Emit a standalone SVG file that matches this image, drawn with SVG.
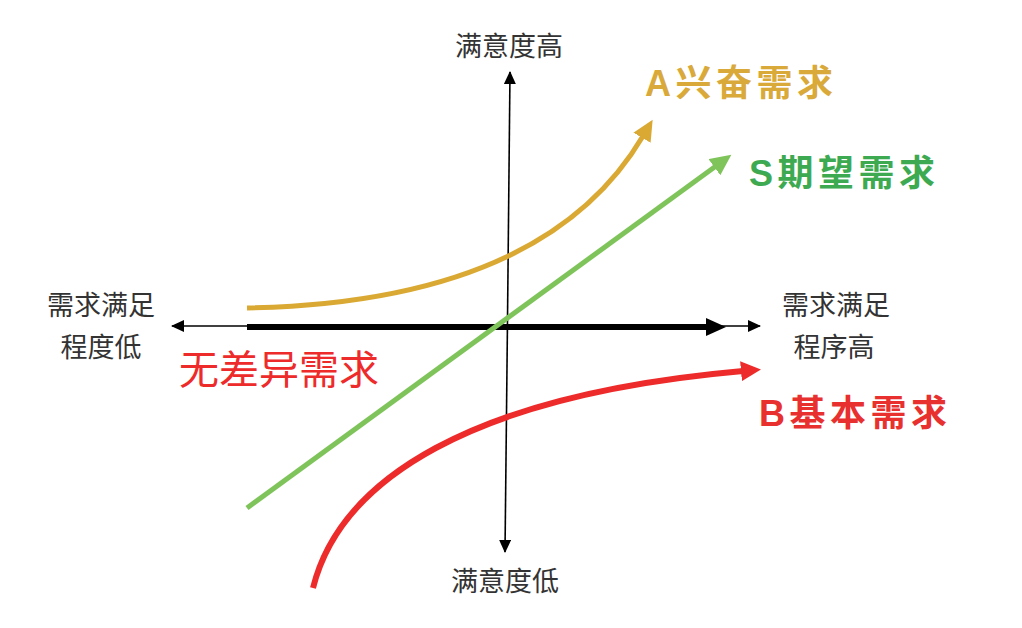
<svg xmlns="http://www.w3.org/2000/svg" width="1022" height="628" viewBox="0 0 1022 628">
<style>
.ax{font-family:"Liberation Serif","Noto Sans CJK SC",serif;font-size:27px;fill:#333;text-anchor:middle}
.lb{font-family:"Liberation Sans","Noto Sans CJK SC",sans-serif;font-weight:bold;font-size:36px;letter-spacing:4.5px}
.thin{stroke:#000;stroke-width:1.6;fill:none}
</style>
<defs>
<marker id="ah" markerUnits="userSpaceOnUse" markerWidth="14" markerHeight="12" refX="12" refY="6" orient="auto">
<path d="M0,0 L13,6 L0,12 Z" fill="#000"/>
</marker>
<marker id="ahk" markerUnits="userSpaceOnUse" markerWidth="22" markerHeight="18" refX="2" refY="9" orient="auto">
<path d="M0,0 L20,9 L0,18 Z" fill="#000"/>
</marker>
<marker id="ahy" markerUnits="userSpaceOnUse" markerWidth="22" markerHeight="20" refX="2" refY="10" orient="auto">
<path d="M0,0 L21,10 L0,20 Z" fill="#DAA934"/>
</marker>
<marker id="ahg" markerUnits="userSpaceOnUse" markerWidth="22" markerHeight="20" refX="2" refY="10" orient="auto">
<path d="M0,0 L21,10 L0,20 Z" fill="#7EC45A"/>
</marker>
<marker id="ahr" markerUnits="userSpaceOnUse" markerWidth="22" markerHeight="20" refX="2" refY="10" orient="auto">
<path d="M0,0 L20,10 L0,20 Z" fill="#EE2B2B"/>
</marker>
</defs>
<g id="connectors">
<line class="thin" x1="498" y1="326" x2="172" y2="326" marker-end="url(#ah)"/>
<line class="thin" x1="498" y1="326" x2="760" y2="326" marker-end="url(#ah)"/>
<line class="thin" x1="507.5" y1="320" x2="510" y2="72" marker-end="url(#ah)"/>
<line class="thin" x1="507.5" y1="320" x2="505" y2="552" marker-end="url(#ah)"/>
<line x1="247" y1="327" x2="708" y2="327" stroke="#000" stroke-width="6" marker-end="url(#ahk)"/>
<path d="M247 308 C405 305 565 268 643 136" fill="none" stroke="#DAA934" stroke-width="5" marker-end="url(#ahy)"/>
<path d="M247 508 L716 166" fill="none" stroke="#7EC45A" stroke-width="5" marker-end="url(#ahg)"/>
<path d="M313 588 C340 480 470 395 743 371" fill="none" stroke="#EE2B2B" stroke-width="6" marker-end="url(#ahr)"/>
</g>
<g id="axis-top"><text class="ax" x="509" y="56">满意度高</text></g>
<g id="axis-bottom"><text class="ax" x="505" y="591">满意度低</text></g>
<g id="axis-left"><text class="ax" x="101" y="315">需求满足</text><text class="ax" x="101" y="357">程度低</text></g>
<g id="axis-right"><text class="ax" x="836" y="315">需求满足</text><text class="ax" x="834" y="357">程序高</text></g>
<g id="indifferent"><text x="279" y="384" text-anchor="middle" style="font-family:'Liberation Serif','Noto Sans CJK SC',serif;font-size:40px;fill:#EE2B2B">无差异需求</text></g>
<g id="attractive"><text class="lb" x="645" y="96" fill="#D9A93A">A兴奋需求</text></g>
<g id="expected"><text class="lb" x="749" y="186" fill="#3DAA52">S期望需求</text></g>
<g id="basic"><text class="lb" x="759" y="426" fill="#E8302F">B基本需求</text></g>
</svg>
